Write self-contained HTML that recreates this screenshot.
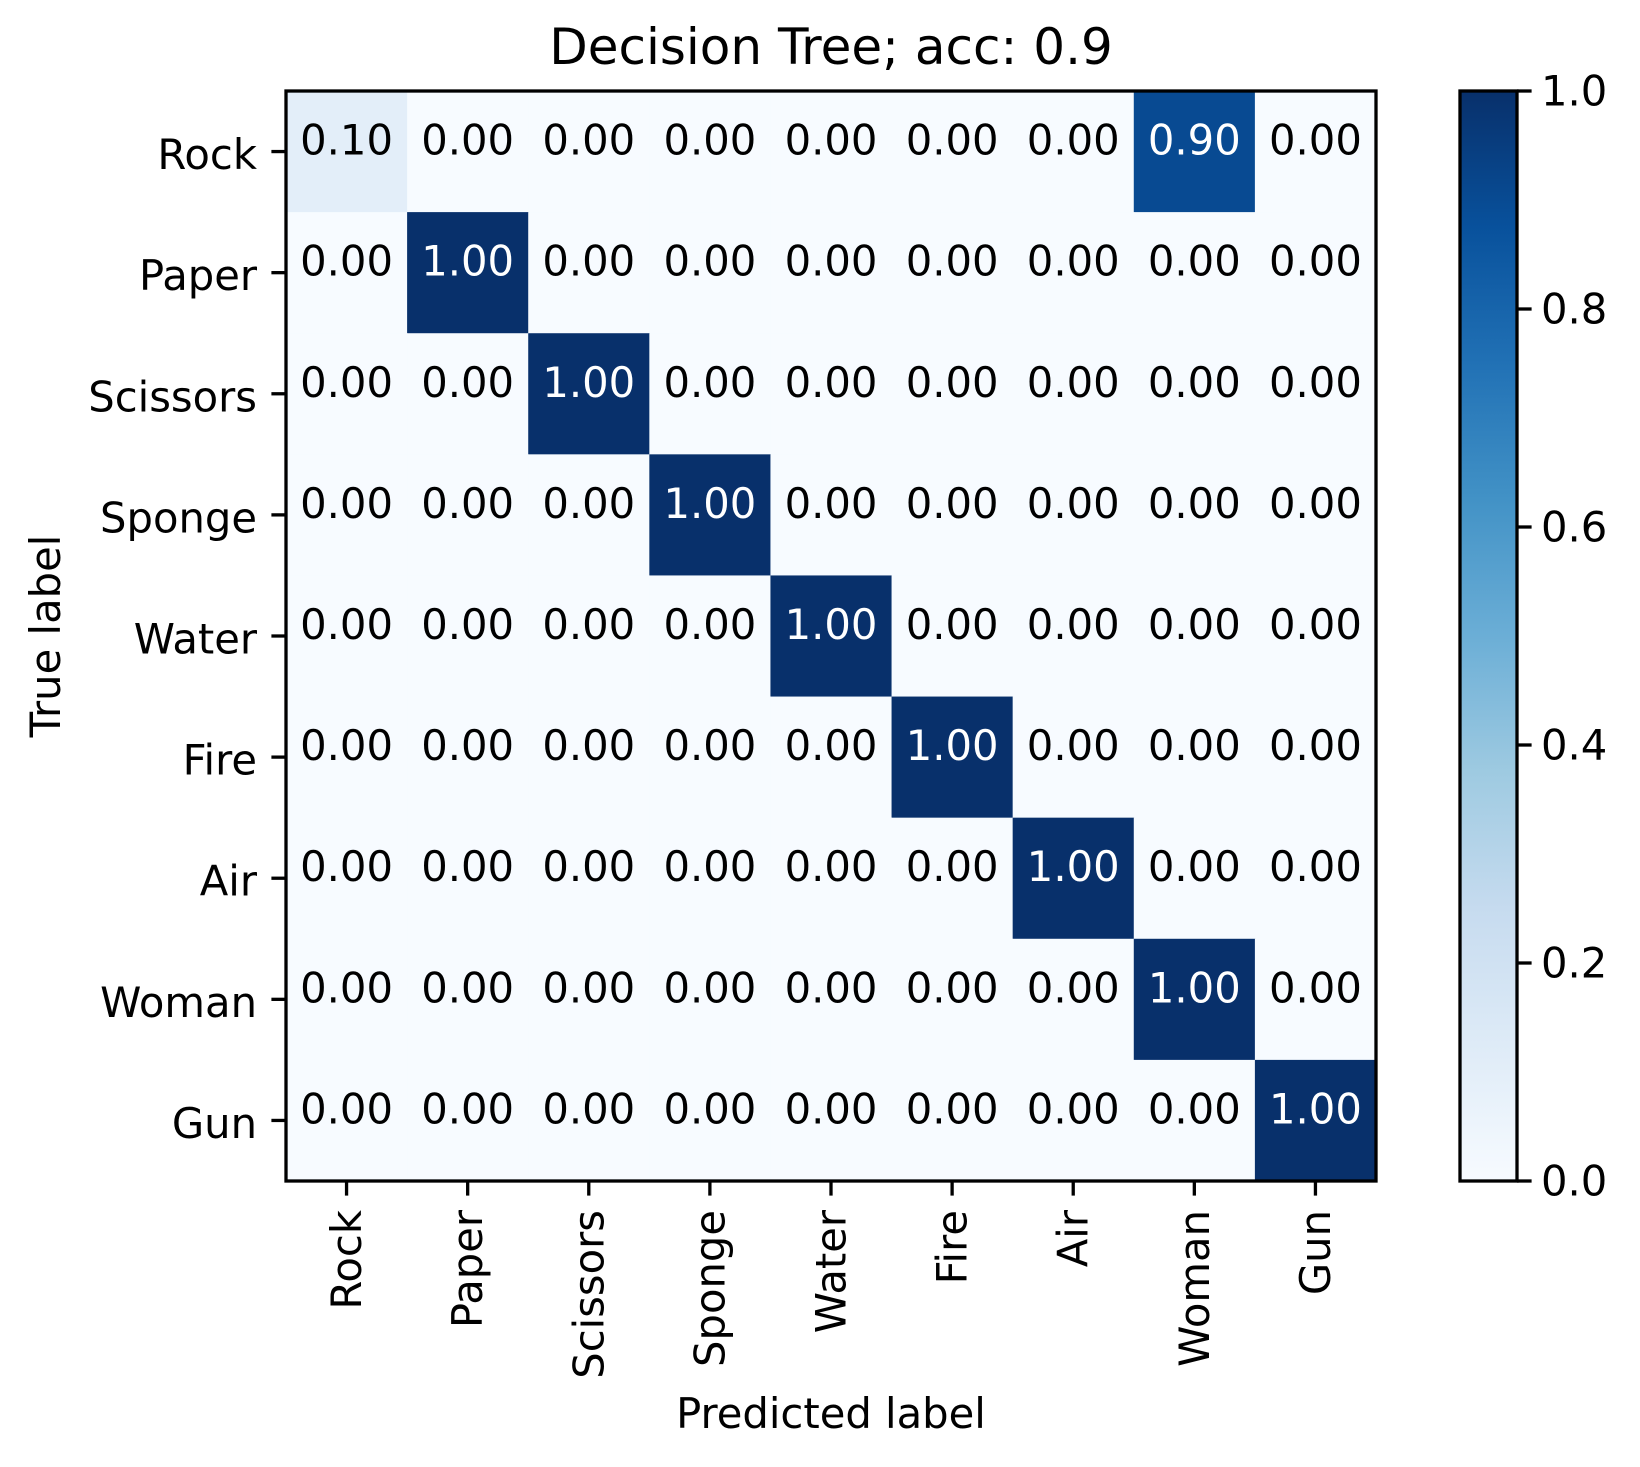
<!DOCTYPE html>
<html><head><meta charset="utf-8"><style>
html,body{margin:0;padding:0;background:#fff;}
svg{display:block;font-family:"DejaVu Sans","Liberation Sans",sans-serif;}
</style></head><body>
<svg id="chart" width="1640" height="1467" viewBox="0 0 1640 1467" xmlns="http://www.w3.org/2000/svg">
<defs>
<linearGradient id="blues" x1="0" y1="1" x2="0" y2="0">
<stop offset="0" stop-color="#f7fbff"/><stop offset="0.125" stop-color="#deebf7"/>
<stop offset="0.25" stop-color="#c6dbef"/><stop offset="0.375" stop-color="#9ecae1"/>
<stop offset="0.5" stop-color="#6baed6"/><stop offset="0.625" stop-color="#4292c6"/>
<stop offset="0.75" stop-color="#2171b5"/><stop offset="0.875" stop-color="#08519c"/>
<stop offset="1" stop-color="#08306b"/>
</linearGradient>
</defs>
<text x="831" y="64" font-size="50" text-anchor="middle">Decision Tree; acc: 0.9</text>
<g id="cells"></g>
<g id="axes"></g>
<text x="831" y="1428" font-size="41.7" text-anchor="middle">Predicted label</text>
<text x="0" y="0" font-size="41.7" text-anchor="middle" transform="translate(60,636) rotate(-90)">True label</text>
<rect x="1460" y="91" width="57" height="1090" fill="url(#blues)" stroke="#000" stroke-width="3.3"/>
<g id="cbar"></g>
</svg>
<script>
const labels = ["Rock","Paper","Scissors","Sponge","Water","Fire","Air","Woman","Gun"];
const matrix = [
[0.10,0,0,0,0,0,0,0.90,0],
[0,1,0,0,0,0,0,0,0],
[0,0,1,0,0,0,0,0,0],
[0,0,0,1,0,0,0,0,0],
[0,0,0,0,1,0,0,0,0],
[0,0,0,0,0,1,0,0,0],
[0,0,0,0,0,0,1,0,0],
[0,0,0,0,0,0,0,1,0],
[0,0,0,0,0,0,0,0,1]];
const cbarTicks = [0,0.2,0.4,0.6,0.8,1.0];

const NS="http://www.w3.org/2000/svg";
const L=286,T=91,W=1090,H=1090,n=labels.length,cw=W/n,ch=H/n;
const CB={x:1460,y:91,w:57,h:1090};
const stops=[[0,[247,251,255]],[0.125,[222,235,247]],[0.25,[198,219,239]],[0.375,[158,202,225]],[0.5,[107,174,214]],[0.625,[66,146,198]],[0.75,[33,113,181]],[0.875,[8,81,156]],[1,[8,48,107]]];
function blues(v){for(let i=1;i<stops.length;i++){if(v<=stops[i][0]){const a=stops[i-1],b=stops[i],t=(v-a[0])/(b[0]-a[0]);return 'rgb('+a[1].map((c,k)=>Math.round(c+(b[1][k]-c)*t)).join(',')+')';}}return 'rgb(8,48,107)';}
function xs(j){return L+j*cw;}
function ys(i){return T+i*ch;}
function mk(tag,attrs,parent){const e=document.createElementNS(NS,tag);for(const k in attrs)e.setAttribute(k,attrs[k]);parent.appendChild(e);return e;}
const cells=document.getElementById('cells'),axes=document.getElementById('axes'),cbar=document.getElementById('cbar');
for(let i=0;i<n;i++)for(let j=0;j<n;j++){
 const v=matrix[i][j];
 const r=mk('rect',{x:xs(j),y:ys(i),width:cw+0.5,height:ch+0.5,fill:blues(v)},cells);
 
 
 const t=mk('text',{x:xs(j)+cw/2,y:ys(i)+ch/2+3,'font-size':41.7,'text-anchor':'middle',fill:v>0.5?'#fff':'#000'},cells);
 t.textContent=v.toFixed(2);
 
 
}
const frame=mk('rect',{x:L,y:T,width:W,height:H,fill:'none',stroke:'#000','stroke-width':3.3},axes);


labels.forEach((lab,k)=>{
 const cx=xs(k)+cw/2, cy=ys(k)+ch/2;
 mk('line',{x1:cx,y1:T+H,x2:cx,y2:T+H+14.6,stroke:'#000','stroke-width':3.3},axes);
 mk('line',{x1:L,y1:cy,x2:L-14.6,y2:cy,stroke:'#000','stroke-width':3.3},axes);
 const xt=mk('text',{x:0,y:0,'font-size':41.7,'text-anchor':'end','dominant-baseline':'central',transform:`translate(${cx},${T+H+29}) rotate(-90)`},axes);
 xt.textContent=lab;
 
 
 const yt=mk('text',{x:L-29,y:cy+3,'font-size':41.7,'text-anchor':'end','dominant-baseline':'central'},axes);
 yt.textContent=lab;
 
 
});
cbarTicks.forEach(v=>{
 const y=CB.y+CB.h*(1-v);
 mk('line',{x1:CB.x+CB.w,y1:y,x2:CB.x+CB.w+14.6,y2:y,stroke:'#000','stroke-width':3.3},cbar);
 const t=mk('text',{x:CB.x+CB.w+24,y:y,'font-size':41.7,'dominant-baseline':'central'},cbar);
 t.textContent=v.toFixed(1);
 
 
});
</script>
</body></html>
